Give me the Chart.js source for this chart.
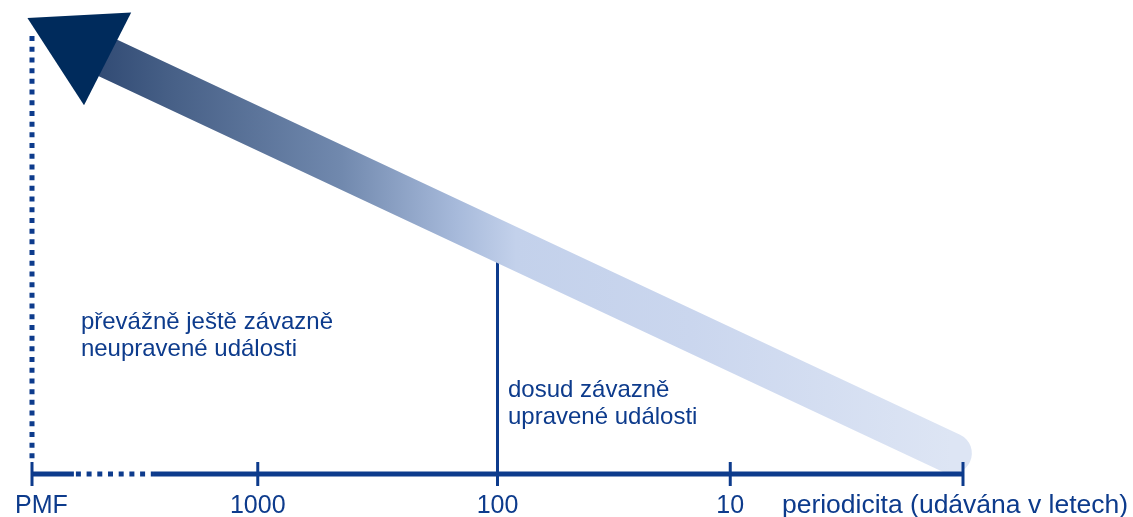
<!DOCTYPE html>
<html lang="cs">
<head>
<meta charset="UTF-8" />
<title>Periodicita událostí</title>
<script src="https://cdn.jsdelivr.net/npm/chart.js"></script>
<style>
  html, body { margin: 0; padding: 0; background: #fff; }
  .wrap { width: 1133px; height: 517px; position: relative; }
</style>
</head>
<body>
<div class="wrap"><canvas id="graf"></canvas></div>
<script>
// osa x v dekádách periodicity (0 = 1 rok), PMF úplně vlevo
const tickPos = [4, 3.03, 2, 1, 0]
const tickLabels = ["PMF", "1000", "100", "10", "periodicita (udávána v letech)"]
// přerušená (tečkovaná) část osy
const axisGap = [3.82, 3.48]
// pás šipky: začátek vpravo dole, konec pod hrotem vlevo nahoře
const arrowX = [0.05, 3.79]
const arrowY = [4.5, 93]
// svislé čáry
const pmfLineTop = 95
const dividerX = 2
const dividerTop = 46
// popisky
const noteLeft = ["převážně ještě závazně", "neupravené události"]
const noteRight = ["dosud závazně", "upravené události"]

const BLUE = "#0d3b8c"
const FONT = '"Liberation Sans", Arial, sans-serif'

// barevný přechod pásu - tmavý u hrotu, světlý vpravo
function bandGradient(chart) {
  const { ctx, chartArea, scales } = chart
  if (!chartArea) return "#8aa0c4"
  const g = ctx.createLinearGradient(
    scales.x.getPixelForValue(arrowX[1]), 0,
    scales.x.getPixelForValue(arrowX[0]), 0
  )
  g.addColorStop(0, "#2c4670")
  g.addColorStop(0.1, "#465f86")
  g.addColorStop(0.3, "#7189ae")
  g.addColorStop(0.43, "#a6b9da")
  g.addColorStop(0.5, "#c3d1eb")
  g.addColorStop(0.7, "#cad6ee")
  g.addColorStop(1, "#dde5f4")
  return g
}

const decor = {
  id: "decor",
  beforeDatasetsDraw(chart) {
    const { ctx, scales: { x, y } } = chart
    const y0 = y.getPixelForValue(0)
    ctx.save()
    ctx.strokeStyle = BLUE

    // tečkovaná svislá čára u PMF
    const px = x.getPixelForValue(tickPos[0])
    ctx.lineWidth = 5
    ctx.setLineDash([5, 5.7])
    ctx.beginPath()
    ctx.moveTo(px, y.getPixelForValue(pmfLineTop))
    ctx.lineTo(px, y0 - 12)
    ctx.stroke()

    // dělicí čára u 100
    ctx.setLineDash([])
    ctx.lineWidth = 3
    const dx = x.getPixelForValue(dividerX)
    ctx.beginPath()
    ctx.moveTo(dx, y.getPixelForValue(dividerTop))
    ctx.lineTo(dx, y0)
    ctx.stroke()
    ctx.restore()
  },
  afterDatasetsDraw(chart) {
    const { ctx, scales: { x, y } } = chart
    const y0 = y.getPixelForValue(0)
    const left = x.getPixelForValue(tickPos[0])
    const right = x.getPixelForValue(tickPos[tickPos.length - 1])
    const g1 = x.getPixelForValue(axisGap[0])
    const g2 = x.getPixelForValue(axisGap[1])
    ctx.save()
    ctx.strokeStyle = BLUE
    ctx.lineWidth = 5

    // osa - plná, tečkovaná, plná
    ctx.beginPath()
    ctx.moveTo(left, y0)
    ctx.lineTo(g1, y0)
    ctx.moveTo(g2, y0)
    ctx.lineTo(right, y0)
    ctx.stroke()
    ctx.setLineDash([5, 5.7])
    ctx.beginPath()
    ctx.moveTo(g1 + 2, y0)
    ctx.lineTo(g2, y0)
    ctx.stroke()
    ctx.setLineDash([])

    // značky a popisky osy
    ctx.lineWidth = 3
    ctx.fillStyle = BLUE
    ctx.textBaseline = "alphabetic"
    const last = tickPos.length - 1
    tickPos.forEach((v, i) => {
      const tx = x.getPixelForValue(v)
      ctx.beginPath()
      ctx.moveTo(tx, y0 - 12)
      ctx.lineTo(tx, y0 + 12)
      ctx.stroke()
      // PMF je v originále trochu posunuté doprava, název osy o kus větší
      ctx.font = (i === last ? "26.5px " : "25px ") + FONT
      if (i === 0) {
        ctx.textAlign = "left"
        ctx.fillText(tickLabels[i], tx - 17, y0 + 39)
      } else {
        ctx.textAlign = "center"
        ctx.fillText(tickLabels[i], i === last ? tx - 8 : tx, y0 + 39)
      }
    })

    // poznámky v ploše grafu
    ctx.font = "24px " + FONT
    ctx.textAlign = "left"
    noteLeft.forEach((t, i) => {
      ctx.fillText(t, x.getPixelForValue(3.79), y.getPixelForValue(31.5) + i * 27)
    })
    noteRight.forEach((t, i) => {
      ctx.fillText(t, x.getPixelForValue(1.955), y.getPixelForValue(16.7) + i * 27)
    })
    ctx.restore()
  },
}

new Chart(document.getElementById("graf"), {
  type: "line",
  data: {
    datasets: [
      {
        data: arrowX.map((v, i) => ({ x: v, y: arrowY[i] })),
        borderWidth: 41,
        borderCapStyle: "round",
        borderColor: (c) => bandGradient(c.chart),
        pointStyle: "triangle",
        pointRadius: [0, 60],
        pointHoverRadius: [0, 60],
        pointRotation: 177,
        pointBackgroundColor: "#002b5c",
        pointBorderWidth: 0,
        clip: false,
      },
    ],
  },
  options: {
    responsive: true,
    maintainAspectRatio: false,
    animation: false,
    events: [],
    layout: { autoPadding: false, padding: { left: 32, right: 170, top: 13, bottom: 43 } },
    plugins: { legend: { display: false }, tooltip: { enabled: false } },
    scales: {
      x: { type: "linear", reverse: true, min: 0, max: 4, display: false },
      y: { min: 0, max: 100, display: false },
    },
  },
  plugins: [decor],
})
</script>
</body>
</html>
